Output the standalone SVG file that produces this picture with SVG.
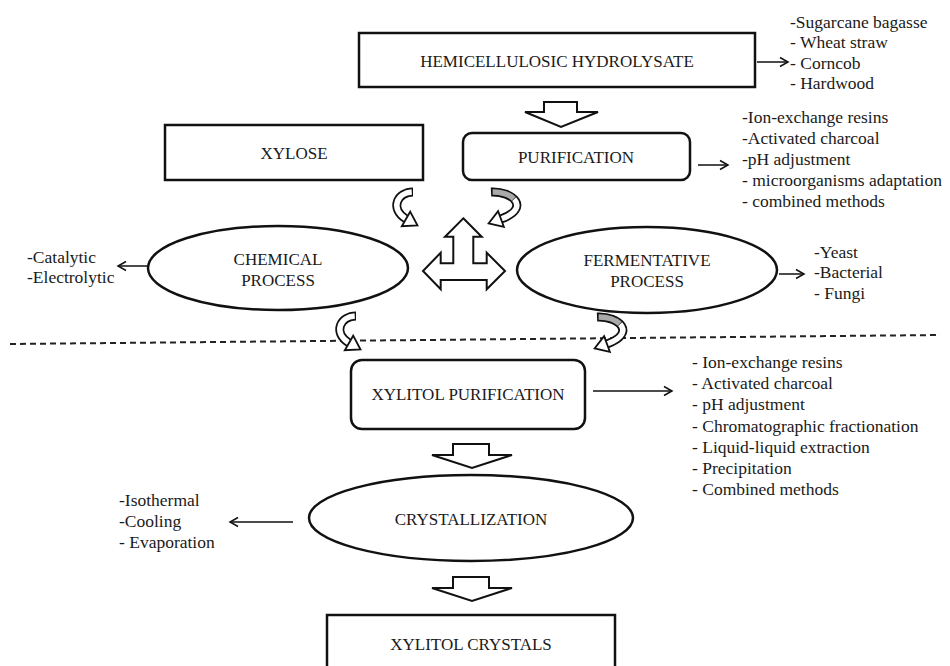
<svg xmlns="http://www.w3.org/2000/svg" width="950" height="666" viewBox="0 0 950 666">
<style>
.box{fill:#fff;stroke:#111;stroke-width:2.5}
.lbl{font-family:"Liberation Serif","Times New Roman",serif;font-size:17px;fill:#1a1a1a;text-anchor:middle}
.lst{font-family:"Liberation Serif","Times New Roman",serif;font-size:17.5px;fill:#1a1a1a}
.con{stroke:#111;stroke-width:1.5;fill:none}
.blk{fill:#fff;stroke:#111;stroke-width:2;stroke-linejoin:miter}
</style>
<defs>
<marker id="oa" markerWidth="12" markerHeight="12" refX="10" refY="6" orient="auto" markerUnits="userSpaceOnUse">
<path d="M2,1.5 L10,6 L2,10.5" fill="none" stroke="#111" stroke-width="1.5"/>
</marker>
<g id="curlL">
<path d="M 23 4 C 8 4, -1 20, 16 31" stroke="#111" stroke-width="9" fill="none"/>
<path d="M 23 4 C 8 4, -1 20, 16 31" stroke="#fff" stroke-width="5.5" fill="none" pathLength="100" stroke-dasharray="0 3 97 0"/>
<polygon points="20.2,23.7 27.5,37.5 11.8,38.2" fill="#fff" stroke="#111" stroke-width="1.8"/>
</g>
<g id="curlR">
<path d="M 4 4 C 26 3, 44 20, 14 31" stroke="#111" stroke-width="9" fill="none"/>
<path d="M 4 4 C 26 3, 44 20, 14 31" stroke="#aaa" stroke-width="5.5" fill="none" pathLength="100" stroke-dasharray="0 3 42 55"/>
<path d="M 4 4 C 26 3, 44 20, 14 31" stroke="#fff" stroke-width="5.5" fill="none" pathLength="100" stroke-dasharray="0 46 54 0"/>
<polygon points="16.9,38.9 1.6,35.4 11.1,23.1" fill="#fff" stroke="#111" stroke-width="1.8"/>
</g>
</defs>
<rect width="950" height="666" fill="#fff"/>

<g id="connectors">
<line class="con" x1="757" y1="62" x2="788" y2="62" marker-end="url(#oa)"/>
<line class="con" x1="698" y1="165" x2="728" y2="165" marker-end="url(#oa)"/>
<line class="con" x1="148" y1="266" x2="118" y2="266" marker-end="url(#oa)"/>
<line class="con" x1="779" y1="274" x2="804" y2="274" marker-end="url(#oa)"/>
<line class="con" x1="593" y1="391" x2="672" y2="391" marker-end="url(#oa)"/>
<line class="con" x1="293" y1="522" x2="230" y2="522" marker-end="url(#oa)"/>
<line x1="10" y1="344" x2="940" y2="335" stroke="#222" stroke-width="2" stroke-dasharray="6 4"/>
<polygon class="blk" points="544,102 577,102 577,112 598,112 561,127 525,112 544,112"/>
<polygon class="blk" points="453,444 489,444 489,455 512,455 472,468 432,455 453,455"/>
<polygon class="blk" points="453,577 489,577 489,588 512,588 472,601 432,588 453,588"/>
<polygon class="blk" points="463.3,218.3 481.7,236.7 473.3,236.7 473.3,263.3 486.7,263.3 486.7,252.7 505,271 486.7,289.3 486.7,280 440.7,280 440.7,289.3 423,271 440.7,252.7 440.7,263.3 453.3,263.3 453.3,236.7 445,236.7"/>
<use href="#curlL" transform="translate(390,188)"/>
<use href="#curlR" transform="translate(487,188)"/>
<use href="#curlL" transform="translate(333,312)"/>
<use href="#curlR" transform="translate(593,313)"/>
</g>

<g id="hemicellulosic">
<rect class="box" x="359" y="33" width="396" height="54"/>
<text class="lbl" x="557" y="67">HEMICELLULOSIC HYDROLYSATE</text>
</g>
<g id="sources">
<text class="lst" x="790" y="28">-Sugarcane bagasse</text>
<text class="lst" x="790" y="48">- Wheat straw</text>
<text class="lst" x="790" y="69">- Corncob</text>
<text class="lst" x="790" y="89">- Hardwood</text>
</g>
<g id="xylose">
<rect class="box" x="165" y="125" width="258" height="55"/>
<text class="lbl" x="294" y="159">XYLOSE</text>
</g>
<g id="purification">
<rect class="box" x="463" y="133" width="227" height="47" rx="9"/>
<text class="lbl" x="576" y="163">PURIFICATION</text>
</g>
<g id="purification-methods">
<text class="lst" x="742" y="123">-Ion-exchange resins</text>
<text class="lst" x="742" y="144">-Activated charcoal</text>
<text class="lst" x="742" y="165">-pH adjustment</text>
<text class="lst" x="742" y="186">- microorganisms adaptation</text>
<text class="lst" x="742" y="207">- combined methods</text>
</g>
<g id="chemical">
<ellipse class="box" cx="278" cy="268" rx="130" ry="42"/>
<text class="lbl" x="278" y="265">CHEMICAL</text>
<text class="lbl" x="278" y="286">PROCESS</text>
</g>
<g id="chemical-methods">
<text class="lst" x="27" y="263">-Catalytic</text>
<text class="lst" x="27" y="283">-Electrolytic</text>
</g>
<g id="fermentative">
<ellipse class="box" cx="647" cy="270" rx="130" ry="43"/>
<text class="lbl" x="647" y="266">FERMENTATIVE</text>
<text class="lbl" x="647" y="287">PROCESS</text>
</g>
<g id="fermentative-agents">
<text class="lst" x="814" y="258">-Yeast</text>
<text class="lst" x="814" y="278">-Bacterial</text>
<text class="lst" x="814" y="299">- Fungi</text>
</g>
<g id="xylitol-purification">
<rect class="box" x="351" y="360" width="234" height="69" rx="11"/>
<text class="lbl" x="468" y="400">XYLITOL PURIFICATION</text>
</g>
<g id="xylitol-purification-methods">
<text class="lst" x="692" y="368">- Ion-exchange resins</text>
<text class="lst" x="692" y="389">- Activated charcoal</text>
<text class="lst" x="692" y="410">- pH adjustment</text>
<text class="lst" x="692" y="431.5">- Chromatographic fractionation</text>
<text class="lst" x="692" y="453">- Liquid-liquid extraction</text>
<text class="lst" x="692" y="474">- Precipitation</text>
<text class="lst" x="692" y="495">- Combined methods</text>
</g>
<g id="crystallization">
<ellipse class="box" cx="471" cy="518" rx="162" ry="43"/>
<text class="lbl" x="471" y="525">CRYSTALLIZATION</text>
</g>
<g id="crystallization-methods">
<text class="lst" x="119" y="506">-Isothermal</text>
<text class="lst" x="119" y="527">-Cooling</text>
<text class="lst" x="119" y="548">- Evaporation</text>
</g>
<g id="xylitol-crystals">
<rect class="box" x="327" y="615" width="288" height="60"/>
<text class="lbl" x="471" y="650">XYLITOL CRYSTALS</text>
</g>
</svg>
